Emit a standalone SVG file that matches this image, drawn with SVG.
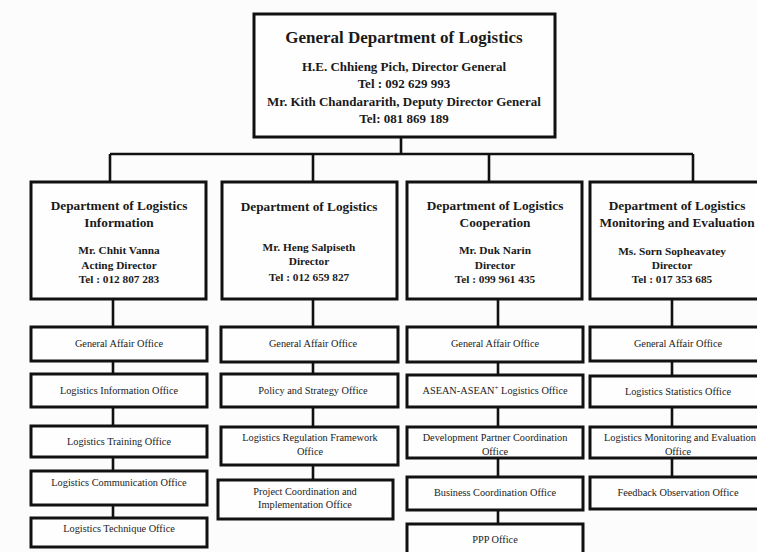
<svg xmlns="http://www.w3.org/2000/svg" width="757" height="552" viewBox="0 0 757 552">
  <style>
    .box { fill: #fefefe; stroke: #111; stroke-width: 3; }
    .wire { fill: none; stroke: #111; stroke-width: 2.6; }
    text { font-family: "Liberation Serif", "Times New Roman", serif; fill: #1a1a1a; text-anchor: middle; }
    .title { font-size: 17px; font-weight: bold; }
    .head { font-size: 13px; font-weight: bold; }
    .dept { font-size: 13.3px; font-weight: bold; }
    .person { font-size: 11.3px; font-weight: bold; }
    .office { font-size: 10.3px; }
  </style>
  <rect width="757" height="552" fill="#fcfcfc"/>

  <g id="connectors">
    <path class="wire" d="M401 137 V154 M110 154 H693 M110 154 V182 M313 154 V182 M489 154 V182 M693 154 V182"/>
    <path class="wire" d="M113 299 V518 M313 299 V480 M498 299 V524 M672 299 V477"/>
  </g>

  <g id="general-department">
    <rect class="box" x="254" y="14" width="301" height="123"/>
    <text class="title" x="404" y="43">General Department of Logistics</text>
    <text class="head" x="404" y="71">H.E. Chhieng Pich, Director General</text>
    <text class="head" x="404" y="88">Tel : 092 629 993</text>
    <text class="head" x="404" y="106">Mr. Kith Chandararith, Deputy Director General</text>
    <text class="head" x="404" y="123">Tel: 081 869 189</text>
  </g>

  <g id="dept-information">
    <rect class="box" x="31" y="182" width="175" height="117"/>
    <text class="dept" x="119" y="210">Department of Logistics</text>
    <text class="dept" x="119" y="227">Information</text>
    <text class="person" x="119" y="254">Mr. Chhit Vanna</text>
    <text class="person" x="119" y="269">Acting Director</text>
    <text class="person" x="119" y="283">Tel : 012 807 283</text>
  </g>

  <g id="dept-logistics">
    <rect class="box" x="222" y="182" width="175" height="117"/>
    <text class="dept" x="309" y="211">Department of Logistics</text>
    <text class="person" x="309" y="251">Mr. Heng Salpiseth</text>
    <text class="person" x="309" y="265">Director</text>
    <text class="person" x="309" y="281">Tel : 012 659 827</text>
  </g>

  <g id="dept-cooperation">
    <rect class="box" x="407" y="182" width="175" height="117"/>
    <text class="dept" x="495" y="210">Department of Logistics</text>
    <text class="dept" x="495" y="227">Cooperation</text>
    <text class="person" x="495" y="254">Mr. Duk Narin</text>
    <text class="person" x="495" y="269">Director</text>
    <text class="person" x="495" y="283">Tel : 099 961 435</text>
  </g>

  <g id="dept-monitoring">
    <rect class="box" x="590" y="182" width="176" height="117"/>
    <text class="dept" x="677" y="210">Department of Logistics</text>
    <text class="dept" x="677" y="227">Monitoring and Evaluation</text>
    <text class="person" x="672" y="255">Ms.  Sorn Sopheavatey</text>
    <text class="person" x="672" y="269">Director</text>
    <text class="person" x="672" y="283">Tel : 017 353 685</text>
  </g>

  <!-- Information column -->
  <g id="info-general-affair">
    <rect class="box" x="31" y="327" width="176" height="34"/>
    <text class="office" x="119" y="347">General Affair Office</text>
  </g>
  <g id="info-information">
    <rect class="box" x="31" y="374" width="176" height="33"/>
    <text class="office" x="119" y="394">Logistics Information Office</text>
  </g>
  <g id="info-training">
    <rect class="box" x="31" y="426" width="176" height="31"/>
    <text class="office" x="119" y="445">Logistics Training Office</text>
  </g>
  <g id="info-communication">
    <rect class="box" x="31" y="471" width="176" height="34"/>
    <text class="office" x="119" y="486">Logistics Communication Office</text>
  </g>
  <g id="info-technique">
    <rect class="box" x="31" y="518" width="176" height="29"/>
    <text class="office" x="119" y="532">Logistics Technique Office</text>
  </g>

  <!-- Logistics column -->
  <g id="log-general-affair">
    <rect class="box" x="221" y="327" width="177" height="35"/>
    <text class="office" x="313" y="347">General Affair Office</text>
  </g>
  <g id="log-policy">
    <rect class="box" x="221" y="374" width="177" height="33"/>
    <text class="office" x="313" y="394">Policy and Strategy Office</text>
  </g>
  <g id="log-regulation">
    <rect class="box" x="221" y="427" width="177" height="38"/>
    <text class="office" x="310" y="441">Logistics Regulation Framework</text>
    <text class="office" x="310" y="455">Office</text>
  </g>
  <g id="log-project">
    <rect class="box" x="218" y="480" width="175" height="39"/>
    <text class="office" x="305" y="495">Project Coordination and</text>
    <text class="office" x="305" y="508">Implementation Office</text>
  </g>

  <!-- Cooperation column -->
  <g id="coop-general-affair">
    <rect class="box" x="407" y="327" width="176" height="35"/>
    <text class="office" x="495" y="347">General Affair Office</text>
  </g>
  <g id="coop-asean">
    <rect class="box" x="407" y="375" width="176" height="32"/>
    <text class="office" x="495" y="394">ASEAN-ASEAN<tspan font-size="7" dy="-4">+</tspan><tspan dy="4"> Logistics Office</tspan></text>
  </g>
  <g id="coop-partner">
    <rect class="box" x="407" y="427" width="176" height="31"/>
    <text class="office" x="495" y="441">Development Partner Coordination</text>
    <text class="office" x="495" y="455">Office</text>
  </g>
  <g id="coop-business">
    <rect class="box" x="407" y="477" width="176" height="33"/>
    <text class="office" x="495" y="496">Business Coordination Office</text>
  </g>
  <g id="coop-ppp">
    <rect class="box" x="407" y="524" width="176" height="40"/>
    <text class="office" x="495" y="543">PPP Office</text>
  </g>

  <!-- Monitoring column -->
  <g id="mon-general-affair">
    <rect class="box" x="590" y="327" width="176" height="34"/>
    <text class="office" x="678" y="347">General Affair Office</text>
  </g>
  <g id="mon-statistics">
    <rect class="box" x="590" y="376" width="176" height="31"/>
    <text class="office" x="678" y="395">Logistics Statistics Office</text>
  </g>
  <g id="mon-evaluation">
    <rect class="box" x="590" y="427" width="176" height="31"/>
    <text class="office" x="680" y="441">Logistics Monitoring and Evaluation</text>
    <text class="office" x="678" y="455">Office</text>
  </g>
  <g id="mon-feedback">
    <rect class="box" x="590" y="477" width="176" height="32"/>
    <text class="office" x="678" y="496">Feedback Observation Office</text>
  </g>
</svg>
